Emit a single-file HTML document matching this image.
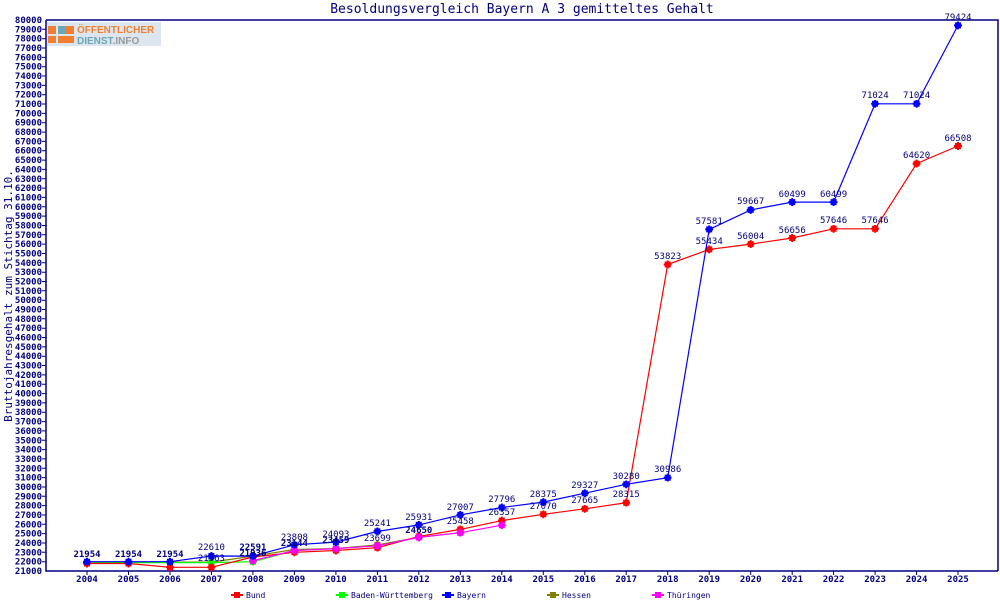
<!DOCTYPE html>
<html><head><meta charset="utf-8"><style>
html,body{margin:0;padding:0;background:#fff;}
svg{display:block;font-family:"DejaVu Sans Mono","Liberation Mono",monospace;}
</style></head><body>
<svg width="1000" height="600" viewBox="0 0 1000 600" xmlns="http://www.w3.org/2000/svg">
<defs>
<marker id="mr" markerWidth="8" markerHeight="8" refX="4" refY="4" markerUnits="userSpaceOnUse"><path d="M1,1h6v6h-6zM0,3h8v2h-8zM3,0h2v8h-2z" fill="#f00"/></marker>
<marker id="mb" markerWidth="8" markerHeight="8" refX="4" refY="4" markerUnits="userSpaceOnUse"><path d="M1,1h6v6h-6zM0,3h8v2h-8zM3,0h2v8h-2z" fill="#00f"/></marker>
<marker id="mg" markerWidth="8" markerHeight="8" refX="4" refY="4" markerUnits="userSpaceOnUse"><path d="M1,1h6v6h-6zM0,3h8v2h-8zM3,0h2v8h-2z" fill="#0f0"/></marker>
<marker id="mo" markerWidth="8" markerHeight="8" refX="4" refY="4" markerUnits="userSpaceOnUse"><path d="M1,1h6v6h-6zM0,3h8v2h-8zM3,0h2v8h-2z" fill="#808000"/></marker>
<marker id="mm" markerWidth="8" markerHeight="8" refX="4" refY="4" markerUnits="userSpaceOnUse"><path d="M1,1h6v6h-6zM0,3h8v2h-8zM3,0h2v8h-2z" fill="#f0f"/></marker>
</defs>
<text x="522" y="13" font-size="13" fill="#000080" text-anchor="middle">Besoldungsvergleich Bayern A 3 gemitteltes Gehalt</text>
<!-- logo -->
<rect x="47" y="22" width="114" height="24" fill="#dde6ee"/>
<rect x="48" y="26" width="8" height="8" fill="#f08030"/><rect x="58" y="26" width="8" height="8" fill="#6aa8b8"/><rect x="66" y="26" width="8" height="8" fill="#f08030"/>
<rect x="48" y="36" width="8" height="7" fill="#f08030"/><rect x="58" y="36" width="8" height="7" fill="#f08030"/><rect x="66" y="36" width="8" height="7" fill="#f08030"/>
<text x="77" y="33" font-size="10" font-weight="bold" fill="#f08030" font-family="Liberation Sans,sans-serif">ÖFFENTLICHER</text>
<text x="77" y="44" font-size="10" font-weight="bold" fill="#6aa8b8" font-family="Liberation Sans,sans-serif">DIENST<tspan fill="#999">.INFO</tspan></text>
<!-- axes -->
<path d="M46,20H998V571M46,20V571H998" fill="none" stroke="#000080" stroke-width="1.5"/>
<g font-size="9" fill="#000080" text-anchor="end" font-weight="bold">
<text x="42" y="574">21000</text><text x="42" y="564.7">22000</text><text x="42" y="555.3">23000</text><text x="42" y="546">24000</text><text x="42" y="536.6">25000</text><text x="42" y="527.3">26000</text><text x="42" y="518">27000</text><text x="42" y="508.6">28000</text><text x="42" y="499.3">29000</text><text x="42" y="490">30000</text><text x="42" y="480.6">31000</text><text x="42" y="471.3">32000</text><text x="42" y="461.9">33000</text><text x="42" y="452.6">34000</text><text x="42" y="443.3">35000</text><text x="42" y="433.9">36000</text><text x="42" y="424.6">37000</text><text x="42" y="415.2">38000</text><text x="42" y="405.9">39000</text><text x="42" y="396.6">40000</text><text x="42" y="387.2">41000</text><text x="42" y="377.9">42000</text><text x="42" y="368.5">43000</text><text x="42" y="359.2">44000</text><text x="42" y="349.9">45000</text><text x="42" y="340.5">46000</text><text x="42" y="331.2">47000</text><text x="42" y="321.8">48000</text><text x="42" y="312.5">49000</text><text x="42" y="303.2">50000</text><text x="42" y="293.8">51000</text><text x="42" y="284.5">52000</text><text x="42" y="275.2">53000</text><text x="42" y="265.8">54000</text><text x="42" y="256.5">55000</text><text x="42" y="247.1">56000</text><text x="42" y="237.8">57000</text><text x="42" y="228.5">58000</text><text x="42" y="219.1">59000</text><text x="42" y="209.8">60000</text><text x="42" y="200.4">61000</text><text x="42" y="191.1">62000</text><text x="42" y="181.8">63000</text><text x="42" y="172.4">64000</text><text x="42" y="163.1">65000</text><text x="42" y="153.7">66000</text><text x="42" y="144.4">67000</text><text x="42" y="135.1">68000</text><text x="42" y="125.7">69000</text><text x="42" y="116.4">70000</text><text x="42" y="107">71000</text><text x="42" y="97.7">72000</text><text x="42" y="88.4">73000</text><text x="42" y="79">74000</text><text x="42" y="69.7">75000</text><text x="42" y="60.4">76000</text><text x="42" y="51">77000</text><text x="42" y="41.7">78000</text><text x="42" y="32.3">79000</text><text x="42" y="23">80000</text>
</g>
<path d="M46,561.7h-4M46,552.3h-4M46,543h-4M46,533.6h-4M46,524.3h-4M46,515h-4M46,505.6h-4M46,496.3h-4M46,487h-4M46,477.6h-4M46,468.3h-4M46,458.9h-4M46,449.6h-4M46,440.3h-4M46,430.9h-4M46,421.6h-4M46,412.2h-4M46,402.9h-4M46,393.6h-4M46,384.2h-4M46,374.9h-4M46,365.5h-4M46,356.2h-4M46,346.9h-4M46,337.5h-4M46,328.2h-4M46,318.8h-4M46,309.5h-4M46,300.2h-4M46,290.8h-4M46,281.5h-4M46,272.2h-4M46,262.8h-4M46,253.5h-4M46,244.1h-4M46,234.8h-4M46,225.5h-4M46,216.1h-4M46,206.8h-4M46,197.4h-4M46,188.1h-4M46,178.8h-4M46,169.4h-4M46,160.1h-4M46,150.7h-4M46,141.4h-4M46,132.1h-4M46,122.7h-4M46,113.4h-4M46,104h-4M46,94.7h-4M46,85.4h-4M46,76h-4M46,66.7h-4M46,57.4h-4M46,48h-4M46,38.7h-4M46,29.3h-4" stroke="#000080"/>
<path d="M87,571v4M128.5,571v4M170,571v4M211.4,571v4M252.9,571v4M294.4,571v4M335.9,571v4M377.4,571v4M418.8,571v4M460.3,571v4M501.8,571v4M543.3,571v4M584.8,571v4M626.2,571v4M667.7,571v4M709.2,571v4M750.7,571v4M792.2,571v4M833.6,571v4M875.1,571v4M916.6,571v4M958,571v4" stroke="#000080"/>
<g font-size="9" fill="#000080" text-anchor="middle" font-weight="bold">
<text x="87" y="582">2004</text><text x="128.5" y="582">2005</text><text x="170" y="582">2006</text><text x="211.4" y="582">2007</text><text x="252.9" y="582">2008</text><text x="294.4" y="582">2009</text><text x="335.9" y="582">2010</text><text x="377.4" y="582">2011</text><text x="418.8" y="582">2012</text><text x="460.3" y="582">2013</text><text x="501.8" y="582">2014</text><text x="543.3" y="582">2015</text><text x="584.8" y="582">2016</text><text x="626.2" y="582">2017</text><text x="667.7" y="582">2018</text><text x="709.2" y="582">2019</text><text x="750.7" y="582">2020</text><text x="792.2" y="582">2021</text><text x="833.6" y="582">2022</text><text x="875.1" y="582">2023</text><text x="916.6" y="582">2024</text><text x="958" y="582">2025</text>
</g>
<text transform="translate(12,296) rotate(-90)" font-size="11" fill="#000080" text-anchor="middle">Bruttojahresgehalt zum Stichtag 31.10.</text>
<!-- series -->
<g fill="none" stroke-width="1.2">
<polyline stroke="#808000" marker-start="url(#mo)" marker-mid="url(#mo)" marker-end="url(#mo)" points="87,562.1 128.5,562.1 170,562.1 211.4,562.1 252.9,556.1 294.4,549.5 335.9,548.6 377.4,544.9 418.8,537.4 460.3,532.7"/>
<polyline stroke="#0f0" marker-start="url(#mg)" marker-mid="url(#mg)" marker-end="url(#mg)" points="87,562.6 128.5,562.6 170,562.6 211.4,562.6 252.9,561.7 294.4,550.5 335.9,548.6"/>
<polyline stroke="#f00" marker-start="url(#mr)" marker-mid="url(#mr)" marker-end="url(#mr)" points="87,563.5 128.5,563.5 170,567.3 211.4,567.3 252.9,557 294.4,552.3 335.9,550.5 377.4,547.7 418.8,536.4 460.3,529.4 501.8,520.6 543.3,514.3 584.8,508.8 626.2,502.7 667.7,264.5 709.2,249.4 750.7,244.1 792.2,238 833.6,228.8 875.1,228.8 916.6,163.6 958,146"/>
<polyline stroke="#f0f" marker-start="url(#mm)" marker-mid="url(#mm)" marker-end="url(#mm)" points="252.9,560.7 294.4,550.5 335.9,548.6 377.4,545.8 418.8,537.4 460.3,532.7 501.8,525.2"/>
<polyline stroke="#00f" marker-start="url(#mb)" marker-mid="url(#mb)" marker-end="url(#mb)" points="87,561.7 128.5,561.7 170,561.7 211.4,556 252.9,556.1 294.4,544.8 335.9,542.1 377.4,531.4 418.8,524.9 460.3,514.9 501.8,507.5 543.3,502.1 584.8,493.2 626.2,484.3 667.7,477.7 709.2,229.4 750.7,209.9 792.2,202.1 833.6,202.1 875.1,103.8 916.6,103.8 958,25.4"/>
</g>
<g font-size="9" fill="#000080" text-anchor="middle">
<text x="87" y="557" font-weight="bold">21954</text><text x="128.5" y="557" font-weight="bold">21954</text><text x="170" y="557" font-weight="bold">21954</text><text x="211.4" y="550">22610</text><text x="211.4" y="561">21363</text><text x="252.9" y="550" font-weight="bold">22591</text><text x="252.9" y="556" font-weight="bold">21936</text>
<text x="294.4" y="540">23808</text><text x="294.4" y="546" font-weight="bold">23144</text><text x="335.9" y="537">24093</text><text x="335.9" y="543" font-weight="bold">23459</text><text x="377.4" y="526">25241</text><text x="377.4" y="541">23699</text><text x="418.8" y="520">25931</text><text x="418.8" y="533" font-weight="bold">24650</text><text x="460.3" y="510">27007</text><text x="460.3" y="524">25458</text><text x="501.8" y="502">27796</text><text x="501.8" y="515">26357</text>
<text x="543.3" y="497">28375</text><text x="543.3" y="509">27070</text><text x="584.8" y="488">29327</text><text x="584.8" y="503">27665</text><text x="626.2" y="479">30280</text><text x="626.2" y="497">28315</text><text x="667.7" y="259">53823</text><text x="667.7" y="472">30986</text><text x="709.2" y="224">57581</text><text x="709.2" y="244">55434</text><text x="750.7" y="204">59667</text><text x="750.7" y="239">56004</text><text x="792.2" y="197">60499</text><text x="792.2" y="233">56656</text><text x="833.6" y="197">60499</text><text x="833.6" y="223">57646</text><text x="875.1" y="98">71024</text><text x="875.1" y="223">57646</text><text x="916.6" y="98">71024</text><text x="916.6" y="158">64620</text><text x="958" y="20">79424</text><text x="958" y="141">66508</text>
</g>
<!-- legend -->
<g font-size="8" fill="#000080">
<path d="M231,595h12" stroke="#f00" stroke-width="2"/><path d="M234,592h6v6h-6z" fill="#f00"/><text x="246" y="598">Bund</text>
<path d="M336,595h12" stroke="#0f0" stroke-width="2"/><path d="M339,592h6v6h-6z" fill="#0f0"/><text x="351" y="598">Baden-Württemberg</text>
<path d="M442,595h12" stroke="#00f" stroke-width="2"/><path d="M445,592h6v6h-6z" fill="#00f"/><text x="457" y="598">Bayern</text>
<path d="M547,595h12" stroke="#808000" stroke-width="2"/><path d="M550,592h6v6h-6z" fill="#808000"/><text x="562" y="598">Hessen</text>
<path d="M652,595h12" stroke="#f0f" stroke-width="2"/><path d="M655,592h6v6h-6z" fill="#f0f"/><text x="667" y="598">Thüringen</text>
</g>
</svg>
</body></html>
